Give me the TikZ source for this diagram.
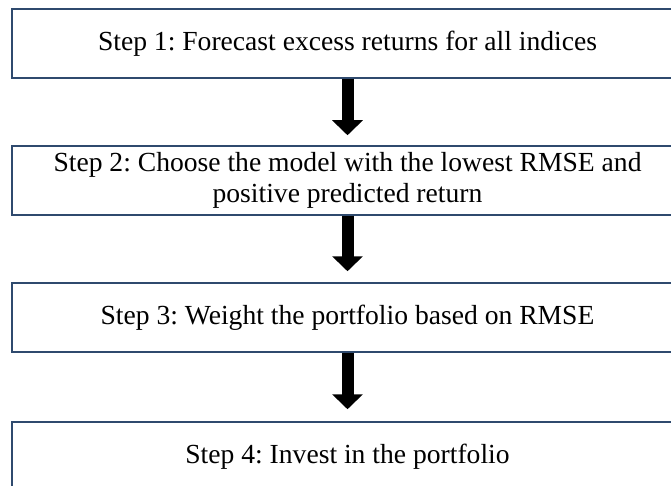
\documentclass[tikz,border=0pt]{standalone}
\usepackage{fontspec}
\setmainfont{Liberation Serif}
\usetikzlibrary{arrows.meta}
\definecolor{boxline}{HTML}{2F4A6E}
\frenchspacing
\tikzset{
  stepbox/.style={draw=boxline, line width=1.5pt, fill=white, minimum width=671pt,
    minimum height=69pt, inner sep=0pt, align=center,
    font=\fontsize{27.6pt}{31pt}\selectfont},
  blockarrow/.style={line width=12pt, black,
    -{Triangle[width=30pt,length=15pt]}}
}
\begin{document}
\begin{tikzpicture}[x=1pt,y=1pt]
\useasboundingbox (0,0) rectangle (671,-486);
\node[stepbox] (b1) at (347.5,-43.5) {Step 1: Forecast excess returns for all indices};
\node[stepbox] (b2) at (347.5,-180.5) {Step 2: Choose the model with the lowest RMSE and\\positive predicted return};
\node[stepbox] (b3) at (347.5,-317.5) {Step 3: Weight the portfolio based on RMSE};
\node[stepbox] (b4) at (347.5,-456.5) {Step 4: Invest in the portfolio};
\draw[blockarrow, shorten >=10pt] (b1.south) -- (b2.north);
\draw[blockarrow, shorten >=11pt] (b2.south) -- (b3.north);
\draw[blockarrow, shorten >=12pt] (b3.south) -- (b4.north);
\end{tikzpicture}
\end{document}
